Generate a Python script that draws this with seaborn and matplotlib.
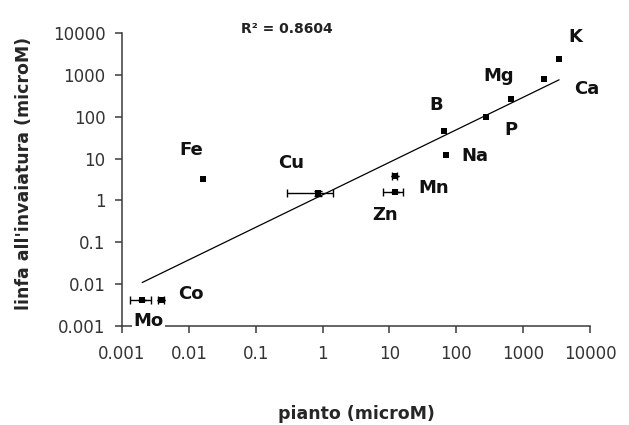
import numpy as np
import pandas as pd
import matplotlib
matplotlib.use("Agg")
import matplotlib.pyplot as plt
import seaborn as sns

# elementi e concentrazioni (microM)
elementi = ["Mo", "Co", "Fe", "Cu", "Zn", "Mn", "Na", "B", "P", "Mg", "Ca", "K"]
pianto = [0.002, 0.0038, 0.016, 0.85, 12.0, 12.0, 70.0, 66.0, 280.0, 660.0, 2050.0, 3450.0]
linfa = [0.0042, 0.0042, 3.2, 1.5, 1.6, 3.9, 12.5, 45.0, 97.0, 260.0, 780.0, 2350.0]
err_pianto = [0.0007, 0.0004, 0, 0.56, 4.0, 1.0, 0, 0, 0, 0, 0, 0]
err_linfa = [0, 0, 0, 0.2, 0, 0, 0, 0, 0, 0, 0, 0]
r2_testo = "R² = 0.8604"
tick_valori = [0.001, 0.01, 0.1, 1, 10, 100, 1000, 10000]
tick_etichette = ["0.001", "0.01", "0.1", "1", "10", "100", "1000", "10000"]

# spostamento delle etichette rispetto al punto (pixel)
offset_etichette = {
    "Mo": (6, -21), "Co": (30, 6), "Fe": (-11, 29), "Cu": (-27, 30),
    "Zn": (-10, -23), "Mn": (39, -12), "Na": (29, -1), "B": (-8, 26),
    "P": (25, -13), "Mg": (-12, 23), "Ca": (43, -10), "K": (16, 22),
}

df = pd.DataFrame({"elemento": elementi, "pianto": pianto, "linfa": linfa,
                   "err_x": err_pianto, "err_y": err_linfa})

sns.set_style("ticks")
plt.rcParams["font.family"] = ["DejaVu Sans"]

fig = plt.figure(figsize=(6.29, 4.25), dpi=100)
ax = fig.add_axes([0.194, 0.233, 0.744, 0.689])
ax.set_xscale("log")
ax.set_yscale("log")

### linea di tendenza (potenza) ###
lx = np.log10(df["pianto"])
ly = np.log10(df["linfa"])
b, a = np.polyfit(lx, ly, 1)
xx = np.array([df["pianto"].min(), df["pianto"].max()])
yy = 10 ** (a + b * np.log10(xx))
sns.lineplot(x=xx, y=yy, color="black", linewidth=0.9, ax=ax)

### barre d'errore ###
con_err = df[(df["err_x"] > 0) | (df["err_y"] > 0)]
ax.errorbar(con_err["pianto"], con_err["linfa"], xerr=con_err["err_x"], yerr=con_err["err_y"],
            fmt="none", ecolor="black", elinewidth=1, capsize=3, capthick=1, zorder=3)

sns.scatterplot(data=df, x="pianto", y="linfa", marker="s", s=16, color="black",
                edgecolor="black", linewidth=0, ax=ax, zorder=4)

for _, r in df.iterrows():
    dx, dy = offset_etichette[r["elemento"]]
    bbox = dict(facecolor="white", edgecolor="none", pad=1) if r["elemento"] == "Mo" else None
    ax.annotate(r["elemento"], (r["pianto"], r["linfa"]), xytext=(dx, dy),
                textcoords="offset pixels", ha="center", va="center",
                fontsize=13, fontweight="bold", color="#111111", bbox=bbox,
                annotation_clip=False, zorder=5)

ax.text(0.3526, 1.014, r2_testo, transform=ax.transAxes, ha="center", va="center",
        fontsize=10, fontweight="bold", color="#222222", clip_on=False)

ax.set_xlim(0.001, 10000)
ax.set_ylim(0.001, 10000)
ax.set_xticks(tick_valori)
ax.set_xticklabels(tick_etichette)
ax.set_yticks(tick_valori)
ax.set_yticklabels(tick_etichette)
ax.minorticks_off()

sns.despine(ax=ax)
for s in ["left", "bottom"]:
    ax.spines[s].set_color("#3a3a3a")
    ax.spines[s].set_linewidth(1.1)
ax.tick_params(axis="both", direction="out", length=5, width=1.1, color="#3a3a3a",
               labelsize=12, labelcolor="#333333")
ax.tick_params(axis="x", pad=9)
ax.tick_params(axis="y", pad=7)

ax.set_xlabel("pianto (microM)", fontsize=12.5, fontweight="bold")
ax.set_ylabel("linfa all'invaiatura (microM)", fontsize=12.5, fontweight="bold")
ax.xaxis.set_label_coords(0.5, -0.27)
ax.yaxis.set_label_coords(-0.19, 0.52)

plt.savefig("out.png", dpi=100)
